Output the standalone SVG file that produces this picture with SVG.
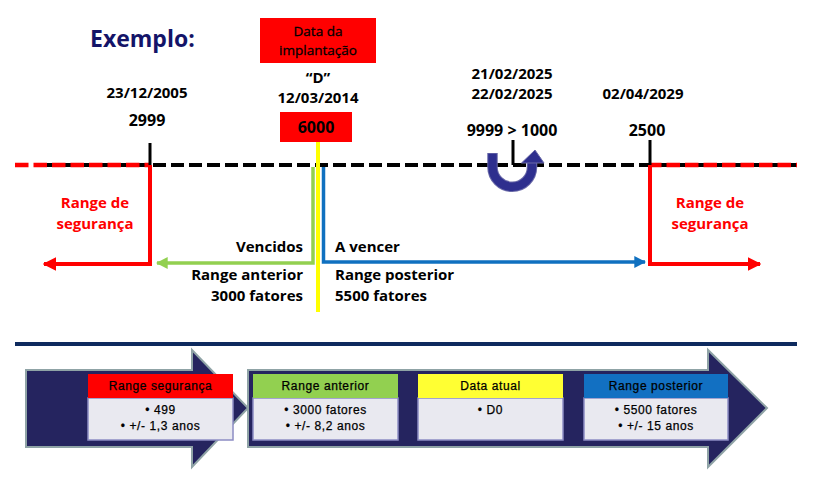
<svg xmlns="http://www.w3.org/2000/svg" width="814" height="482" viewBox="0 0 814 482">
<style>
.t{font-family:"Open Sans","Liberation Sans",sans-serif;font-weight:700;font-size:15px;fill:#000}
.r{fill:#FF0000}
.m{text-anchor:middle}
.e{text-anchor:end}
.b{font-family:"Liberation Sans",Arial,sans-serif;font-size:12px;letter-spacing:0.6px;fill:#000;stroke:#000;stroke-width:0.25;text-anchor:middle}
.big{fill:#25245F;stroke:#8FA3A6;stroke-width:2}
.bd{fill:#E9E9F0;stroke:#8C8CC4;stroke-width:1.5}
.di{font-family:"Open Sans","Liberation Sans",sans-serif;font-size:13.5px;fill:#000;stroke:#000;stroke-width:0.3;text-anchor:middle}
</style>
<defs>
<marker id="ar" viewBox="0 0 10 10" refX="9" refY="5" markerWidth="3.4" markerHeight="3.6" orient="auto" markerUnits="strokeWidth">
<path d="M0,0 L10,5 L0,10 z" fill="context-stroke"/>
</marker>
</defs>

<text x="90" y="47" style="font-family:'Open Sans','Liberation Sans',sans-serif;font-weight:700;font-size:23px;fill:#141468">Exemplo:</text>

<g id="timeline">
<line x1="45" y1="165" x2="797" y2="165" stroke="#000" stroke-width="4" stroke-dasharray="13 5"/>
<line x1="15" y1="165" x2="150" y2="165" stroke="#FF0000" stroke-width="4.5" stroke-dasharray="13.5 5"/>
<line x1="650" y1="165" x2="797" y2="165" stroke="#FF0000" stroke-width="4.5" stroke-dasharray="13.5 5" stroke-dashoffset="2"/>
</g>

<g id="connectors" fill="none">
<line x1="150" y1="143" x2="150" y2="165" stroke="#000" stroke-width="3"/>
<line x1="650" y1="140" x2="650" y2="165" stroke="#000" stroke-width="3"/>
<line x1="513" y1="140" x2="513" y2="165" stroke="#000" stroke-width="3"/>
<polyline points="150,165 150,264 44,264" stroke="#FF0000" stroke-width="4" marker-end="url(#ar)"/>
<polyline points="650,165 650,264 760,264" stroke="#FF0000" stroke-width="4" marker-end="url(#ar)"/>
<polyline points="313,167 313,263 157,263" stroke="#92D050" stroke-width="3.5" marker-end="url(#ar)"/>
<polyline points="323.5,167 323.5,262 645,262" stroke="#0F70C0" stroke-width="3.5" marker-end="url(#ar)"/>
<line x1="318" y1="142" x2="318" y2="312" stroke="#FFFF00" stroke-width="4"/>
<g id="swap">
<path d="M492.5,153 L492.5,167 A19.75,19.75 0 0 0 532,167 L532,161" stroke="#6A6AA8" stroke-width="10.5"/>
<path d="M492.5,153.8 L492.5,167 A19.75,19.75 0 0 0 532,167 L532,161" stroke="#2E2F8E" stroke-width="8.5"/>
<polygon points="521.5,163 535,150 544,163" fill="#2E2F8E" stroke="#6A6AA8" stroke-width="1"/>
</g>
</g>

<g id="node-implantacao">
<rect x="260" y="18" width="116" height="45" fill="#FF0000"/>
<text x="318" y="36" class="di">Data da</text>
<text x="318" y="55" class="di">implantação</text>
<text x="318" y="83" class="t m">“D”</text>
<text x="318" y="103" class="t m">12/03/2014</text>
<rect x="280" y="112" width="72" height="30" fill="#FF0000"/>
<text x="316" y="133" class="t m" style="font-size:16px">6000</text>
</g>

<g id="node-2005">
<text x="147" y="98" class="t m">23/12/2005</text>
<text x="147" y="126" class="t m" style="font-size:16px">2999</text>
</g>

<g id="node-2025">
<text x="512" y="79" class="t m">21/02/2025</text>
<text x="512" y="99" class="t m">22/02/2025</text>
<text x="512" y="136" class="t m" style="font-size:16px">9999 &gt; 1000</text>
</g>

<g id="node-2029">
<text x="643" y="99" class="t m">02/04/2029</text>
<text x="647" y="136" class="t m" style="font-size:16px">2500</text>
</g>

<g id="label-seg-left">
<text x="95" y="208" class="t m r">Range de</text>
<text x="95" y="229" class="t m r">segurança</text>
</g>
<g id="label-seg-right">
<text x="710" y="208" class="t m r">Range de</text>
<text x="710" y="229" class="t m r">segurança</text>
</g>
<g id="label-anterior">
<text x="303" y="252" class="t e">Vencidos</text>
<text x="303" y="280" class="t e">Range anterior</text>
<text x="303" y="301" class="t e">3000 fatores</text>
</g>
<g id="label-posterior">
<text x="335" y="252" class="t">A vencer</text>
<text x="335" y="280" class="t">Range posterior</text>
<text x="335" y="301" class="t">5500 fatores</text>
</g>

<line x1="15" y1="344" x2="797" y2="344" stroke="#0E2A5E" stroke-width="4"/>

<g id="arrow-1">
<polygon class="big" points="26,370 192,370 192,350 248,408 192,467 192,447 26,447"/>
</g>
<g id="arrow-2">
<polygon class="big" points="248,370 708,370 708,350 767,408 708,467 708,447 248,447"/>
</g>

<g id="node-range-seguranca">
<rect x="88" y="398" width="145" height="42" class="bd"/>
<rect x="88" y="374" width="145" height="24" fill="#FF0000"/>
<text x="160.5" y="390" class="b">Range segurança</text>
<text x="160.5" y="414" class="b">• 499</text>
<text x="160.5" y="430" class="b">• +/- 1,3 anos</text>
</g>
<g id="node-range-anterior">
<rect x="253" y="398" width="145" height="42" class="bd"/>
<rect x="253" y="374" width="145" height="24" fill="#92D050"/>
<text x="325.5" y="390" class="b">Range anterior</text>
<text x="325.5" y="414" class="b">• 3000 fatores</text>
<text x="325.5" y="430" class="b">• +/- 8,2 anos</text>
</g>
<g id="node-data-atual">
<rect x="418" y="398" width="145" height="42" class="bd"/>
<rect x="418" y="374" width="145" height="24" fill="#FFFF33"/>
<text x="490.5" y="390" class="b">Data atual</text>
<text x="490.5" y="414" class="b">• D0</text>
</g>
<g id="node-range-posterior">
<rect x="584" y="398" width="144" height="42" class="bd"/>
<rect x="584" y="374" width="144" height="24" fill="#1270C2"/>
<text x="656" y="390" class="b">Range posterior</text>
<text x="656" y="414" class="b">• 5500 fatores</text>
<text x="656" y="430" class="b">• +/- 15 anos</text>
</g>
</svg>
